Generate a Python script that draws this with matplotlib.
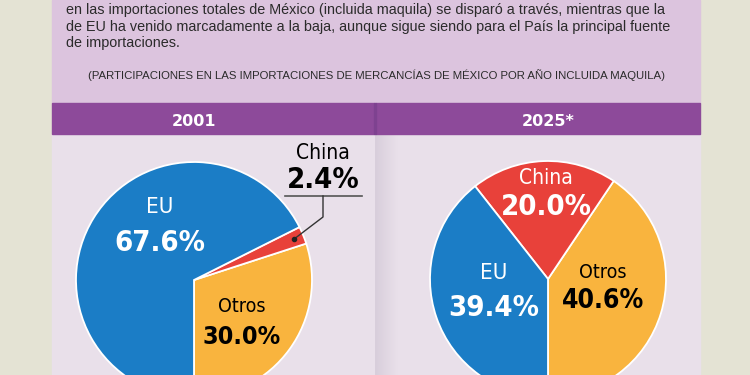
import numpy as np
import matplotlib
matplotlib.use('Agg')
import matplotlib.pyplot as plt
from matplotlib.patches import Rectangle

# --- datos ---
anios = ['2001', '2025*']
categorias = ['Otros', 'China', 'EU']
part_2001 = [30.0, 2.4, 67.6]
part_2025 = [40.6, 20.0, 39.4]
colores = ['#f9b43e', '#e8413a', '#1b7dc6']

texto = [
    'en las importaciones totales de México (incluida maquila) se disparó a través, mientras que la',
    'de EU ha venido marcadamente a la baja, aunque sigue siendo para el País la principal fuente',
    'de importaciones.',
]
subtitulo = '(PARTICIPACIONES EN LAS IMPORTACIONES DE MERCANCÍAS DE MÉXICO POR AÑO INCLUIDA MAQUILA)'

TXT = dict(family='Liberation Sans')
LAB = dict(family='DejaVu Sans', fontstretch='condensed')
W, H = 750, 375


def Y(p):
    # pixel row -> data y (y hacia arriba)
    return H - p


fig = plt.figure(figsize=(7.5, 3.75), dpi=100)
fig.patch.set_facecolor('#e4e3d4')
ax = fig.add_axes([0, 0, 1, 1])
ax.set_axis_off()

# fondos
ax.add_patch(Rectangle((52, Y(103)), 648, 103, color='#dcc4de', zorder=0))
ax.add_patch(Rectangle((52, 0), 648, Y(134), color='#e9e0ea', zorder=0))
ax.add_patch(Rectangle((52, Y(134)), 322, 31, color='#8d4a9a', zorder=1))
ax.add_patch(Rectangle((376, Y(134)), 324, 31, color='#8d4a9a', zorder=1))
ax.add_patch(Rectangle((374, Y(134)), 2, 31, color='#7e4290', zorder=1))
# sombra del panel derecho
grad = np.linspace(0, 1, 40).reshape(1, -1)
ax.imshow(grad, extent=(375, 398, 0, Y(134)), cmap=matplotlib.colors.LinearSegmentedColormap.from_list(
    's', ['#d8cedb', '#e9e0ea']), aspect='auto', zorder=0.5)

# texto superior
for i, linea in enumerate(texto):
    ax.text(66, Y(10 + 16.5 * i), linea, fontsize=10.4, color='#2b2b2b',
            ha='left', va='center', zorder=3, **TXT)
ax.text(377, Y(75), subtitulo, fontsize=8.2, color='#2b2b2b',
        ha='center', va='center', zorder=3, **TXT)

# encabezados
centros = [(194, 280), (548, 279)]
for (cx, _), anio in zip(centros, anios):
    ax.text(cx, Y(121), anio, fontsize=11.5, fontweight='bold', color='white',
            family='DejaVu Sans', ha='center', va='center', zorder=3)

R = 118
wedges_all = []
for (cx, cy), valores in zip(centros, [part_2001, part_2025]):
    wedges, _ = ax.pie(valores, colors=colores, startangle=-90, counterclock=True,
                       center=(cx, Y(cy)), radius=R,
                       wedgeprops=dict(edgecolor='white', linewidth=1.3), frame=True)
    wedges_all.append(wedges)

ax.set_xlim(0, W)
ax.set_ylim(0, H)
ax.set_aspect('auto')


def etiqueta(x, y, nombre, valor, color, s1, s2, dy):
    ax.text(x, Y(y), nombre, fontsize=s1, color=color,
            ha='center', va='center', zorder=4, **LAB)
    ax.text(x, Y(y + dy), f'{valor:.1f}%', fontsize=s2, fontweight='bold',
            color=color, ha='center', va='center', zorder=4, **LAB)


# 2001
etiqueta(160, 207, 'EU', part_2001[2], 'white', 16, 21, 36)
etiqueta(242, 307, 'Otros', part_2001[0], 'black', 14, 18, 30)
etiqueta(323, 153, 'China', part_2001[1], 'black', 15, 21, 27)

# línea guía China 2001
cx, cy = centros[0]
w = wedges_all[0][1]
mid = np.deg2rad((w.theta1 + w.theta2) / 2)
px, py = cx + 0.92 * R * np.cos(mid), Y(cy) + 0.92 * R * np.sin(mid)
ax.plot([285, 362], [Y(196), Y(196)], color='#555555', lw=1.2, zorder=4)
ax.plot([323, 323, px], [Y(196), Y(217), py], color='#333333', lw=1.0, zorder=4)
ax.plot([px], [py], 'o', color='#222222', ms=3, zorder=5)

# 2025
etiqueta(546, 178, 'China', part_2025[1], 'white', 15, 21, 29)
etiqueta(494, 273, 'EU', part_2025[2], 'white', 16, 21, 35)
etiqueta(603, 272, 'Otros', part_2025[0], 'black', 14, 19, 29)

fig.savefig('out.png', dpi=100, facecolor=fig.get_facecolor())
